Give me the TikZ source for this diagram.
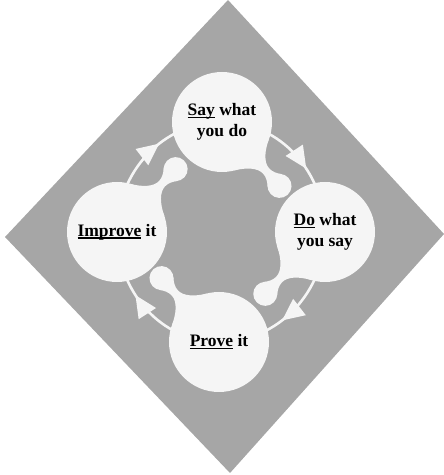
\documentclass[tikz,border=0pt]{standalone}
\usepackage{fontspec}
\setmainfont{Liberation Serif}
\usetikzlibrary{arrows.meta,decorations.markings}

\definecolor{slate}{HTML}{A6A6A6}
\definecolor{paper}{HTML}{F5F5F5}
\newcommand{\undl}[1]{\setbox0\hbox{#1}\rlap{\rule[-2.4pt]{\wd0}{1.2pt}}\box0{}}

\pgfdeclarelayer{back}
\pgfsetlayers{back,main}

\tikzset{
    stage/.style={circle, fill=paper, minimum size=100pt, inner sep=0pt, align=center,
        font=\fontsize{17.5}{21}\selectfont\bfseries, text=black},
    looparc/.style={draw=paper, line width=2.6pt, postaction={decorate},
        decoration={markings, mark=at position 0.6 with
            {\arrow{Triangle[length=22pt,width=20pt,fill=paper]}}}},
}

\begin{document}
\begin{tikzpicture}[x=1pt, y=1pt, node distance=110pt]
            \useasboundingbox (0,0) rectangle (444,475);

            \node[stage] (say) at (222,353) {\undl{Say} what\\you do};
            \node[stage, below of=say, xshift=103pt] (do) {\undl{Do} what\\you say};
            \node[stage, below of=do, xshift=-106pt] (prove) {\undl{Prove} it};
            \node[stage, left of=do, xshift=-98pt] (improve) {\undl{Improve} it};

            \begin{pgfonlayer}{back}
                \fill[slate] (228,475) -- (444,241) -- (230,2) -- (5,238) -- cycle;

                \draw[looparc] (say.center) to[out=0, in=90] (do.center);
                \draw[looparc] (do.center) to[out=-90, in=0] (prove.center);
                \draw[looparc] (prove.center) to[out=180, in=-90] (improve.center);
                \draw[looparc] (improve.center) to[out=90, in=180] (say.center);

                % beads on the inner side
                \foreach \n/\a in {say/-48, do/-134, prove/132, improve/47} {
                    \begin{scope}[shift={(\n.center)}, rotate=\a]
                        \fill[paper] (44.1,23.5) .. controls (50,12.2) and (58,4) .. (66,4)
                            .. controls (71,4) and (75,6.5) .. (79.1,9.8) -- (79.1,-9.8)
                            .. controls (75,-6.5) and (71,-4) .. (66,-4)
                            .. controls (58,-4) and (50,-12.2) .. (44.1,-23.5) -- cycle;
                        \fill[paper] (86,0) circle (12);
                    \end{scope}
                }
            \end{pgfonlayer}
        \end{tikzpicture}
\end{document}
